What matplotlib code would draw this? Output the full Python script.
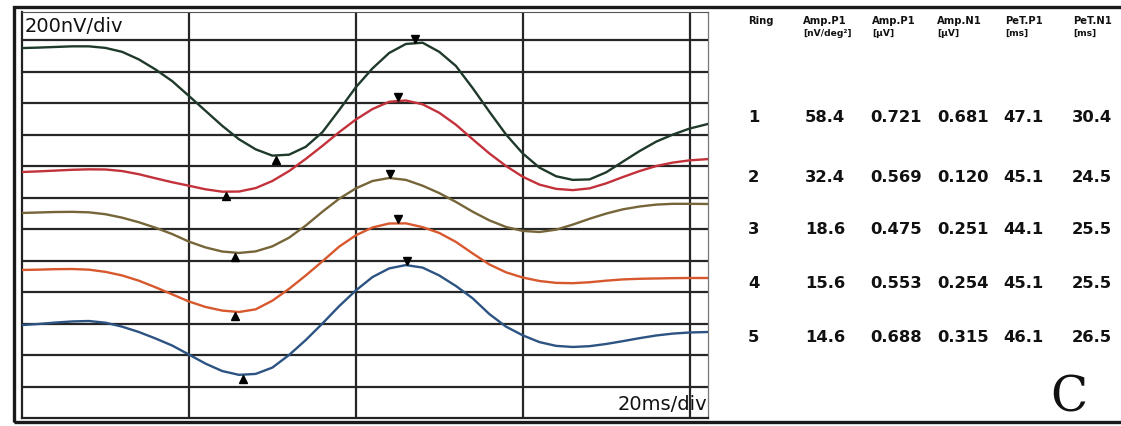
import matplotlib
matplotlib.use("Agg")
import matplotlib.pyplot as plt
import matplotlib.transforms as mtransforms
from matplotlib.patches import Rectangle
import numpy as np

# ---------------- data ----------------
# time axis (ms) shared by the traces, read every 2 ms off the picture
time_ms = [0, 2, 4, 6, 8, 10, 12, 14, 16, 18, 20, 22, 24, 26, 28, 30, 32, 34, 36, 38, 40,
           42, 44, 46, 48, 50, 52, 54, 56, 58, 60, 62, 64, 66, 68, 70, 72, 74, 76, 78, 80, 82.2]

# trace positions on the chart (nV above the bottom of the plot)
ring1_v = [2349, 2352, 2356, 2360, 2360, 2350, 2325, 2277, 2213, 2139, 2045, 1950, 1855, 1770,
           1706, 1666, 1672, 1722, 1815, 1955, 2100, 2220, 2318, 2375, 2383, 2325, 2235, 2095,
           1945, 1800, 1680, 1590, 1535, 1512, 1515, 1560, 1628, 1695, 1755, 1800, 1838, 1867]
ring2_v = [1562, 1566, 1571, 1576, 1579, 1578, 1568, 1548, 1522, 1497, 1475, 1452, 1437, 1438,
           1460, 1505, 1568, 1645, 1728, 1815, 1895, 1962, 2008, 2016, 1992, 1938, 1862, 1770,
           1680, 1600, 1532, 1482, 1455, 1447, 1458, 1490, 1530, 1568, 1600, 1622, 1636, 1644]
ring3_v = [1302, 1305, 1308, 1309, 1306, 1294, 1272, 1243, 1208, 1168, 1120, 1083, 1057, 1048,
           1058, 1090, 1145, 1222, 1310, 1392, 1458, 1505, 1524, 1512, 1475, 1428, 1372, 1310,
           1255, 1213, 1188, 1181, 1196, 1228, 1265, 1298, 1325, 1343, 1355, 1360, 1360, 1359]
ring4_v = [940, 942, 945, 946, 942, 928, 905, 872, 830, 785, 740, 705, 682, 673,
           690, 745, 820, 905, 995, 1088, 1160, 1210, 1235, 1236, 1212, 1175, 1118, 1045,
           975, 925, 892, 870, 858, 856, 862, 872, 880, 884, 886, 888, 889, 889]
ring5_v = [590, 597, 606, 613, 616, 605, 580, 546, 505, 460, 403, 345, 298, 274,
           280, 320, 400, 495, 600, 710, 810, 895, 950, 971, 955, 905, 838, 760,
           660, 580, 525, 482, 458, 451, 456, 470, 488, 507, 524, 536, 543, 546]

rings = [1, 2, 3, 4, 5]
amp_p1_density = ["58.4", "32.4", "18.6", "15.6", "14.6"]
amp_p1 = ["0.721", "0.569", "0.475", "0.553", "0.688"]
amp_n1 = ["0.681", "0.120", "0.251", "0.254", "0.315"]
pet_p1 = [47.1, 45.1, 44.1, 45.1, 46.1]
pet_n1 = [30.4, 24.5, 25.5, 25.5, 26.5]

header_top = ["Ring", "Amp.P1", "Amp.P1", "Amp.N1", "PeT.P1", "PeT.N1"]
header_bottom = ["", "[nV/deg\u00b2]", "[\u00b5V]", "[\u00b5V]", "[ms]", "[ms]"]

x_ticks = [20, 40, 60, 80]
y_ticks = [200 * k for k in range(1, 13)]

colors = ["#1f3a2a", "#c3323b", "#756538", "#d8582e", "#2c5382"]

# ---------------- figure ----------------
W, H = 1121, 426
fig = plt.figure(figsize=(W / 100, H / 100), dpi=100)
fig.patch.set_facecolor("white")

def fx(px):
    return px / W

def fy(py):
    return 1 - py / H

ax = fig.add_axes([fx(22), fy(418), fx(708) - fx(22), fy(12) - fy(418)])
ax.set_xlim(0, 82.2)
ax.set_ylim(0, 2578)
ax.set_xticks(x_ticks)
ax.set_yticks(y_ticks)
ax.tick_params(length=0, labelbottom=False, labelleft=False)
ax.grid(True, color="#262626", lw=1.6)
ax.set_axisbelow(True)
for s in ["left", "bottom"]:
    ax.spines[s].set_color("#222222")
    ax.spines[s].set_linewidth(1.6)
ax.spines["top"].set_color("#555555")
ax.spines["top"].set_linewidth(0.8)
ax.spines["right"].set_color("#777777")
ax.spines["right"].set_linewidth(0.9)

traces = [ring1_v, ring2_v, ring3_v, ring4_v, ring5_v]

up = mtransforms.offset_copy(ax.transData, fig=fig, x=0, y=3.2, units="points")
down = mtransforms.offset_copy(ax.transData, fig=fig, x=0, y=-3.2, units="points")

for v, c, tp, tn in zip(traces, colors, pet_p1, pet_n1):
    ax.plot(time_ms, v, color=c, lw=1.7, solid_joinstyle="round", zorder=3)
    yp = np.interp(tp, time_ms, v)
    yn = np.interp(tn, time_ms, v)
    ax.plot([tp], [yp], marker="v", color="black", ms=6, transform=up, zorder=4, clip_on=False)
    ax.plot([tn], [yn], marker="^", color="black", ms=6, transform=down, zorder=4, clip_on=False)

ax.text(0.004, 0.988, "200nV/div", transform=ax.transAxes, ha="left", va="top",
        fontsize=14, family="DejaVu Sans", color="#111111")
ax.text(0.999, 0.010, "20ms/div", transform=ax.transAxes, ha="right", va="bottom",
        fontsize=14, family="DejaVu Sans", color="#111111", zorder=5)

# outer frame
fig.add_artist(Rectangle((fx(14), fy(422)), fx(1130) - fx(14), fy(7) - fy(422),
                         transform=fig.transFigure, fill=False, ec="#1a1a1a", lw=2.4))

# ---------------- table ----------------
col_head_x = [748, 803, 872, 937, 1005, 1073]
col_x = [748, 805, 870, 937, 1003, 1072]
row_y = [118, 177, 230, 284, 337]

for x, t1, t2 in zip(col_head_x, header_top, header_bottom):
    fig.text(fx(x), fy(21), t1, ha="left", va="center", fontsize=7.2,
             family="DejaVu Sans", weight="bold", color="#111111")
    if t2:
        fig.text(fx(x), fy(33), t2, ha="left", va="center", fontsize=6.6,
                 family="DejaVu Sans", weight="bold", color="#111111")

for i, r in enumerate(rings):
    vals = [str(r), amp_p1_density[i], amp_p1[i], amp_n1[i],
            f"{pet_p1[i]:.1f}", f"{pet_n1[i]:.1f}"]
    for x, s in zip(col_x, vals):
        fig.text(fx(x), fy(row_y[i]), s, ha="left", va="center", fontsize=11.8,
                 family="DejaVu Sans", weight="bold", color="#111111")

fig.text(fx(1069), fy(398), "C", ha="center", va="center", fontsize=35,
         family="DejaVu Serif", color="#111111")

fig.savefig("out.png", dpi=100, facecolor="white")
